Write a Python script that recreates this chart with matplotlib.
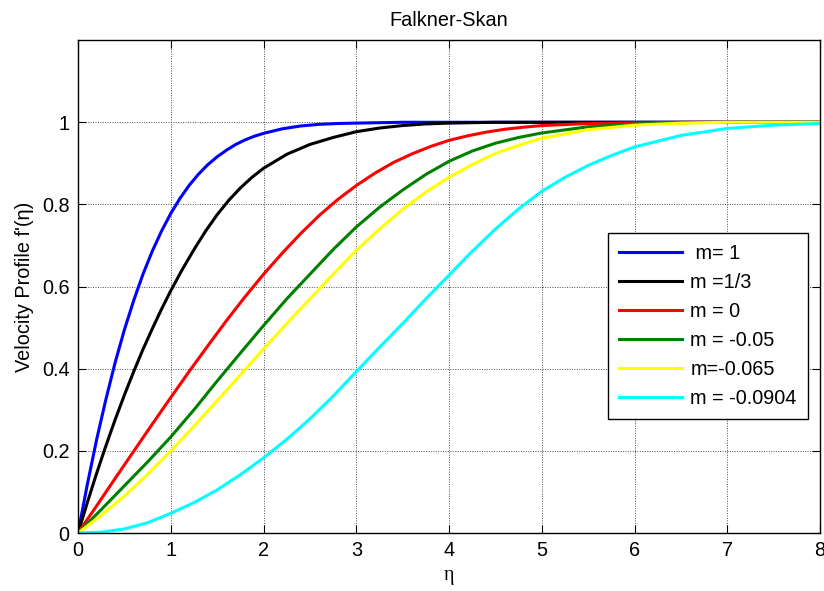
import matplotlib
matplotlib.use('Agg')
import matplotlib.pyplot as plt

plt.rcParams['font.family'] = ['Liberation Sans', 'DejaVu Sans']

# values
eta_m1 = [0, 0.1, 0.2, 0.3, 0.4, 0.5, 0.6, 0.7, 0.8, 0.9, 1.0, 1.1, 1.2, 1.3, 1.4,
          1.5, 1.6, 1.7, 1.8, 1.9, 2.0, 2.2, 2.4, 2.6, 2.8, 3.0, 3.5, 4.0, 8.0]
fp_m1 = [0, 0.118, 0.227, 0.325, 0.415, 0.495, 0.566, 0.630, 0.686, 0.735, 0.778,
         0.815, 0.847, 0.874, 0.897, 0.916, 0.932, 0.946, 0.957, 0.966, 0.973,
         0.984, 0.991, 0.995, 0.997, 0.998, 1.0, 1.0, 1.0]

eta_m13 = [0, 0.1, 0.2, 0.3, 0.4, 0.5, 0.6, 0.7, 0.8, 0.9, 1.0, 1.125, 1.25,
           1.375, 1.5, 1.625, 1.75, 1.875, 2.0, 2.25, 2.5, 2.75, 3.0, 3.25, 3.5,
           3.75, 4.0, 4.5, 8.0]
fp_m13 = [0, 0.074, 0.145, 0.212, 0.276, 0.336, 0.393, 0.447, 0.497, 0.545, 0.590,
          0.642, 0.690, 0.735, 0.775, 0.810, 0.840, 0.866, 0.888, 0.922, 0.946,
          0.963, 0.977, 0.986, 0.992, 0.996, 0.998, 1.0, 1.0]

eta_m0 = [0, 0.2, 0.4, 0.6, 0.8, 1.0, 1.2, 1.4, 1.6, 1.8, 2.0, 2.2, 2.4, 2.6, 2.8,
          3.0, 3.2, 3.4, 3.6, 3.8, 4.0, 4.2, 4.4, 4.6, 4.8, 5.0, 5.4, 5.8, 6.2,
          6.6, 7.0, 8.0]
fp_m0 = [0, 0.066, 0.133, 0.199, 0.265, 0.330, 0.394, 0.456, 0.517, 0.575, 0.630,
         0.681, 0.729, 0.773, 0.812, 0.846, 0.876, 0.902, 0.923, 0.941, 0.956,
         0.967, 0.976, 0.983, 0.988, 0.992, 0.996, 0.998, 0.999, 1.0, 1.0, 1.0]

eta_q = [0, 0.25, 0.5, 0.75, 1.0, 1.25, 1.5, 1.75, 2.0, 2.25, 2.5, 2.75, 3.0,
         3.25, 3.5, 3.75, 4.0, 4.25, 4.5, 4.75, 5.0, 5.5, 6.0, 6.5, 7.0, 8.0]
fp_m005 = [0, 0.057, 0.115, 0.173, 0.234, 0.300, 0.370, 0.438, 0.505, 0.570,
           0.630, 0.690, 0.745, 0.793, 0.835, 0.873, 0.905, 0.930, 0.949, 0.963,
           0.974, 0.989, 0.996, 0.999, 1.0, 1.0]
fp_m0065 = [0, 0.043, 0.090, 0.143, 0.200, 0.260, 0.322, 0.385, 0.448, 0.510,
            0.570, 0.630, 0.688, 0.740, 0.788, 0.830, 0.866, 0.897, 0.924, 0.944,
            0.961, 0.982, 0.993, 0.998, 1.0, 1.0]

eta_sep = [0, 0.25, 0.5, 0.75, 1.0, 1.25, 1.5, 1.75, 2.0, 2.25, 2.5, 2.75, 3.0,
           3.25, 3.5, 3.75, 4.0, 4.25, 4.5, 4.75, 5.0, 5.25, 5.5, 5.75, 6.0, 6.5,
           7.0, 7.5, 8.0]
fp_m00904 = [0, 0.002, 0.010, 0.025, 0.048, 0.074, 0.105, 0.142, 0.183, 0.228,
             0.278, 0.333, 0.393, 0.452, 0.510, 0.570, 0.628, 0.686, 0.740, 0.789,
             0.832, 0.866, 0.895, 0.919, 0.940, 0.968, 0.985, 0.993, 0.997]

labels = [' m= 1', 'm =1/3', 'm = 0', 'm = -0.05', 'm=-0.065', 'm = -0.0904']

fig = plt.figure(figsize=(8.24, 5.91), dpi=100)
ax = fig.add_axes([0.0947, 0.0981, 0.9005, 0.834])

lw = 2.2
ax.plot(eta_m1, fp_m1, color='#0000ff', lw=lw, label=labels[0])
ax.plot(eta_m13, fp_m13, color='#000000', lw=lw, label=labels[1])
ax.plot(eta_m0, fp_m0, color='#ff0000', lw=lw, label=labels[2])
ax.plot(eta_q, fp_m005, color='#008000', lw=lw, label=labels[3])
ax.plot(eta_q, fp_m0065, color='#ffff00', lw=lw, label=labels[4])
ax.plot(eta_sep, fp_m00904, color='#00ffff', lw=lw, label=labels[5])

ax.set_xlim(0, 8)
ax.set_ylim(0, 1.2)
ax.set_xticks(range(0, 9))
ax.set_yticks([0, 0.2, 0.4, 0.6, 0.8, 1])
ax.set_yticklabels(['0', '0.2', '0.4', '0.6', '0.8', '1'])
ax.tick_params(direction='in', length=5.5, width=0.8, top=True, right=True,
               labelsize=14.3, pad=6)
ax.grid(True, color='0.3', linestyle=(0, (1, 1.5)), linewidth=0.7)
for s in ax.spines.values():
    s.set_linewidth(1.0)

ax.set_title('Falkner-Skan', fontsize=14.3, pad=10)
ax.set_xlabel('η', fontsize=14.3, family=['Liberation Serif', 'DejaVu Serif'])
ax.set_ylabel("Velocity Profile f'(η)", fontsize=14.3, labelpad=6)

leg = ax.legend(loc='upper left', bbox_to_anchor=(0.714, 0.6085), borderaxespad=0,
                fontsize=14.3, handlelength=3.2, handletextpad=0.4,
                labelspacing=0.5, fancybox=False, framealpha=1,
                edgecolor='black', borderpad=0.55)
leg.get_frame().set_linewidth(1.0)

fig.savefig('out.png', dpi=100)
